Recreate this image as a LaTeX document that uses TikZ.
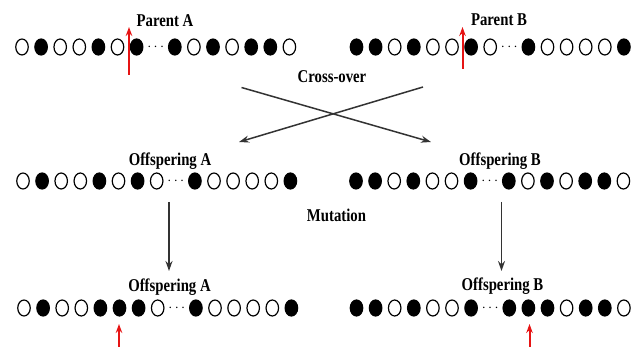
\documentclass[tikz,border=0pt]{standalone}
\usepackage{fontspec}
\setmainfont{Liberation Serif}[FakeStretch=0.82]
\usetikzlibrary{arrows.meta,shapes.geometric}
\definecolor{arrowred}{RGB}{230,20,20}
\tikzset{
  gene/.style={ellipse, minimum width=12.5pt, minimum height=16pt, inner sep=0pt, line width=1.2pt},
  w/.style={gene, draw=black, fill=white},
  b/.style={gene, draw=black, fill=black},
  dd/.style={inner sep=0pt, minimum size=0pt, label={[inner sep=0pt, font=\fontsize{14}{14}\selectfont]center:$\cdots$}},
  lbl/.style={font=\fontsize{18}{20}\selectfont\bfseries, anchor=base, inner sep=0pt},
  flow/.style={draw=black!80, line width=1.5pt, -{Stealth[length=10pt, width=7pt]}},
  cut/.style={draw=arrowred, line width=2pt, -{Stealth[length=9pt, width=6.5pt]}},
}
\begin{document}
\begin{tikzpicture}[x=1pt, y=-1pt]
\useasboundingbox (0,0) rectangle (639,347);
% Parent rows
\foreach \s [count=\i from 0] in {w,b,w,w,b,w,b,dd,b,w,b,w,b,b,w}
  \node[\s] (pa\i) at ({22+19.1*\i},47) {};
\foreach \s [count=\i from 0] in {b,b,w,b,w,w,b,w,dd,b,w,w,w,w,b}
  \node[\s] (pb\i) at ({356.5+19.1*\i},47) {};
% Offspring after cross-over
\foreach \s [count=\i from 0] in {w,b,w,w,b,w,b,w,dd,b,w,w,w,w,b}
  \node[\s] (oa\i) at ({23+19.1*\i},181) {};
\foreach \s [count=\i from 0] in {b,b,w,b,w,w,b,dd,b,w,b,w,b,b,w}
  \node[\s] (ob\i) at ({356+19.1*\i},181) {};
% Offspring after mutation
\foreach \s [count=\i from 0] in {w,b,w,w,b,b,b,w,dd,b,w,w,w,w,b}
  \node[\s] (ma\i) at ({24+19.1*\i},308) {};
\foreach \s [count=\i from 0] in {b,b,w,b,w,w,b,dd,b,b,b,w,b,b,w}
  \node[\s] (mb\i) at ({356.5+19.1*\i},308) {};
% Labels
\node[lbl] (lpa) at (165,26.5) {Parent A};
\node[lbl] (lpb) at (499,25.5) {Parent B};
\node[lbl] (lco) at (332,83) {Cross-over};
\node[lbl] (loa) at (170,166) {Offspering A};
\node[lbl] (lob) at (500,166) {Offspering B};
\node[lbl] (lmu) at (336.5,222) {Mutation};
\node[lbl] (lma) at (169.5,291.5) {Offspering A};
\node[lbl] (lmb) at (502.5,290.5) {Offspering B};
% Cross-over arrows
\coordinate (c1s) at (241.5,87.5);
\coordinate (c1e) at (431,142);
\coordinate (c2s) at (423,87);
\coordinate (c2e) at (239,142);
\draw[flow] (c1s) -- (c1e);
\draw[flow] (c2s) -- (c2e);
% Mutation arrows
\coordinate (m1s) at (169,202);
\coordinate (m1e) at (169,271);
\coordinate (m2s) at (501.5,202);
\coordinate (m2e) at (501.5,271);
\draw[flow] (m1s) -- (m1e);
\draw[flow] (m2s) -- (m2e);
% Red markers
\coordinate (r1s) at (129,75);
\coordinate (r1e) at (129,27);
\coordinate (r2s) at (462.5,69);
\coordinate (r2e) at (462.5,27);
\coordinate (r3s) at (119,347);
\coordinate (r3e) at (119,324);
\coordinate (r4s) at (529.5,347);
\coordinate (r4e) at (529.5,324);
\draw[cut] (r1s) -- (r1e);
\draw[cut] (r2s) -- (r2e);
\draw[cut] (r3s) -- (r3e);
\draw[cut] (r4s) -- (r4e);
\end{tikzpicture}
\end{document}
